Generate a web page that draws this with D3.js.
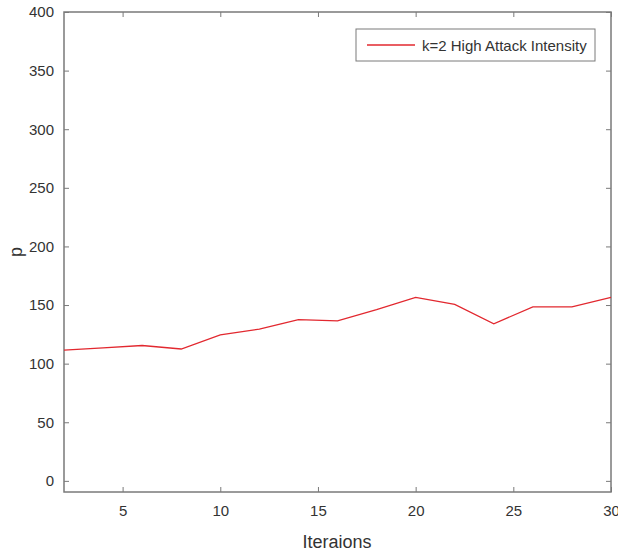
<!DOCTYPE html>
<html><head><meta charset="utf-8">
<script src="https://cdn.jsdelivr.net/npm/d3@7"></script>
<style>body{margin:0;background:#fff}text{font-family:"Liberation Sans",Arial,sans-serif}</style>
</head><body><svg id="c" width="618" height="554"></svg>
<script>
const iterations = [2,4,6,8,10,12,14,16,18,20,22,24,26,28,30];
const pValues = [111.5,113.5,115.5,112.5,124.5,129.5,137.5,136.5,146,156.5,150.5,134,148.5,148.5,156.5];
const xTicks = [5,10,15,20,25,30];
const yTicks = [0,50,100,150,200,250,300,350,400];
const seriesName = "k=2 High Attack Intensity";

const svg = d3.select("#c");
const L=64,R=611,T=12,B=492;
const x = d3.scaleLinear().domain([2,30]).range([L,R]);
const y = d3.scaleLinear().domain([-9.5,400]).range([B,T]);
const axCol="#7a7a7a", txtCol="#333";

const gx = svg.append("g").attr("transform",`translate(0,${B})`)
  .call(d3.axisBottom(x).tickValues(xTicks).tickSize(-5).tickPadding(13).tickFormat(d3.format("d")));
const gy = svg.append("g").attr("transform",`translate(${L},0)`)
  .call(d3.axisLeft(y).tickValues(yTicks).tickSize(-5).tickPadding(10).tickFormat(d3.format("d")));
const gyr = svg.append("g").attr("transform",`translate(${R},0)`)
  .call(d3.axisRight(y).tickValues(yTicks).tickSize(-5).tickFormat(""));
const gxt = svg.append("g").attr("transform",`translate(0,${T})`)
  .call(d3.axisTop(x).tickValues(xTicks).tickSize(-5).tickFormat(""));
[gx,gy,gyr,gxt].forEach(g=>{
  g.select(".domain").remove();
  g.selectAll("line").attr("stroke",axCol);
  g.selectAll("text").attr("fill",txtCol).style("font-size","15px");
});
svg.append("rect").attr("x",L).attr("y",T).attr("width",R-L).attr("height",B-T)
  .attr("fill","none").attr("stroke",axCol).attr("stroke-width",1.5);

svg.append("path").datum(iterations.map((d,i)=>[d,pValues[i]]))
  .attr("fill","none").attr("stroke","#e2282f").attr("stroke-width",1.3)
  .attr("d",d3.line().x(d=>x(d[0])).y(d=>y(d[1])));

svg.append("text").attr("x",337).attr("y",548).attr("text-anchor","middle")
  .attr("fill",txtCol).style("font-size","18px").text("Iteraions");
svg.append("text").attr("transform",`translate(22,${(T+B)/2}) rotate(-90)`).attr("text-anchor","middle")
  .attr("fill",txtCol).style("font-size","18px").text("p");

const lg = svg.append("g");
lg.append("rect").attr("x",356).attr("y",29).attr("width",239).attr("height",32)
  .attr("fill","#fff").attr("stroke",axCol).attr("stroke-width",1);
lg.append("line").attr("x1",367).attr("x2",415).attr("y1",45).attr("y2",45)
  .attr("stroke","#e2282f").attr("stroke-width",1.3);
lg.append("text").attr("x",422).attr("y",50.5).attr("fill",txtCol).style("font-size","15px").text(seriesName);
</script></body></html>
